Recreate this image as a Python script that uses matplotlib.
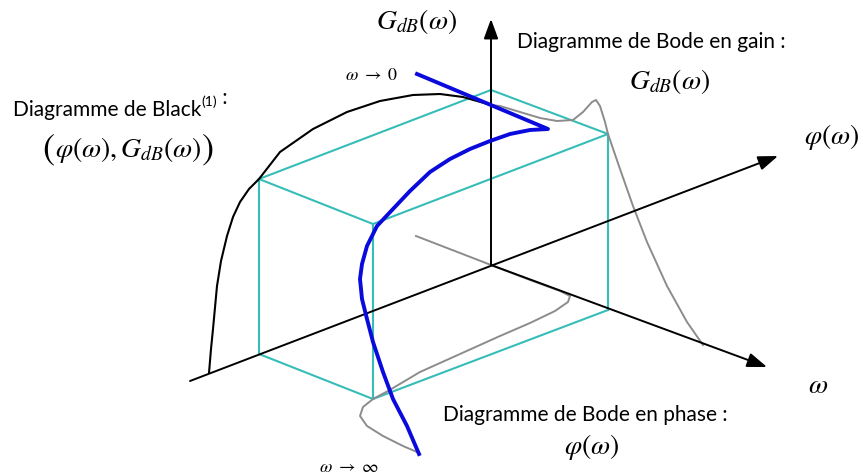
import numpy as np
import matplotlib
matplotlib.use("Agg")
import matplotlib.pyplot as plt

plt.rcParams['font.family'] = ['Lato', 'DejaVu Sans']
plt.rcParams['mathtext.fontset'] = 'stix'

# axes of the 3D sketch (pixel space): origin, then arrow tips
origin = (491, 266)
tip_gain = (491, 20)
tip_phase = (778, 157)
tail_phase = (190, 382)
tip_omega = (767, 368)

# cube corners
box_top = [(259, 180), (373, 225), (608, 135), (491, 91), (259, 180)]
box_bottom = [(259, 355), (373, 400), (608, 311)]
box_edges = [((259, 180), (259, 355)), ((373, 225), (373, 400)), ((608, 135), (608, 311))]

# Black diagram (projection on the phi / G plane)
black_x = [209, 211, 213, 217, 221, 227, 233, 240, 249, 259, 280, 313, 347, 380, 413, 440, 463, 491]
black_y = [374, 350, 330, 287, 262, 237, 218, 203, 190, 180, 153, 130, 113, 102, 96, 95, 98, 106]

# Bode gain (omega / G plane)
gain_x = [491, 500, 520, 540, 557, 573, 583, 592, 596, 600, 605, 608, 620, 633, 647, 667, 687, 703]
gain_y = [106, 107, 113, 119, 122, 121, 113, 103, 101, 107, 123, 135, 170, 207, 243, 287, 323, 346]

# Bode phase (omega / phi plane), runs under the omega axis before dropping
phase_x = [416, 491, 530, 560, 570, 568, 555, 530, 500, 460, 420, 388, 373, 363, 360, 367, 383, 403, 417]
phase_y = [237, 266, 281, 292, 297, 303, 312, 324, 337, 355, 373, 392, 400, 408, 417, 427, 437, 447, 453]

# 3D frequency response
resp_x = [417, 548, 530, 510, 490, 470, 450, 430, 410, 393, 377, 367, 362, 360, 362, 367, 373, 383, 393, 407, 419]
resp_y = [75, 130, 131, 135, 142, 150, 160, 173, 192, 210, 227, 247, 265, 280, 300, 320, 343, 373, 400, 427, 455]

cyan = '#36bdb8'
grey = '#8c8c8c'
blue = '#0a0adc'

fig = plt.figure(figsize=(8.65, 4.77), dpi=100)
ax = fig.add_axes([0, 0, 1, 1])
ax.set_xlim(0, 865)
ax.set_ylim(477, 0)
ax.axis('off')

# cube
bx, by = zip(*box_top)
ax.plot(bx, by, color=cyan, lw=1.5, zorder=2)
bx, by = zip(*box_bottom)
ax.plot(bx, by, color=cyan, lw=1.5, zorder=2)
for a, b in box_edges:
    ax.plot([a[0], b[0]], [a[1], b[1]], color=cyan, lw=1.5, zorder=2)

# curves
ax.plot(black_x, black_y, color='black', lw=1.5, zorder=3, solid_capstyle='round')
ax.plot(gain_x, gain_y, color=grey, lw=1.4, zorder=3)
ax.plot(phase_x, phase_y, color=grey, lw=1.4, zorder=3)
ax.plot(resp_x, resp_y, color=blue, lw=2.8, zorder=5, solid_joinstyle='round')

# axes with arrows
arr = dict(arrowstyle='-|>,head_length=0.6,head_width=0.22', color='black', lw=1.4,
           mutation_scale=20, shrinkA=0, shrinkB=0)
ax.annotate('', xy=tip_gain, xytext=origin, arrowprops=arr, zorder=4)
ax.annotate('', xy=tip_phase, xytext=tail_phase, arrowprops=arr, zorder=4)
ax.annotate('', xy=tip_omega, xytext=origin, arrowprops=arr, zorder=4)

# labels
txt = 15
mth = 20
ax.text(416, 21, r'$G_{dB}(\omega)$', fontsize=mth, ha='center', va='center')
ax.text(832, 137, r'$\varphi(\omega)$', fontsize=mth, ha='center', va='center')
ax.text(818, 385, r'$\omega$', fontsize=mth, ha='center', va='center')
ax.text(372, 75, r'$\omega\ \rightarrow\ 0$', fontsize=13, ha='center', va='center')
ax.text(349, 467, r'$\omega\ \rightarrow\ \infty$', fontsize=13, ha='center', va='center')

ax.text(517, 42, 'Diagramme de Bode en gain :', fontsize=txt, ha='left', va='center')
ax.text(669, 82, r'$G_{dB}(\omega)$', fontsize=mth, ha='center', va='center')

ax.text(443, 415, 'Diagramme de Bode en phase :', fontsize=txt, ha='left', va='center')
ax.text(592, 447, r'$\varphi(\omega)$', fontsize=mth, ha='center', va='center')

t1 = ax.text(13, 110, 'Diagramme de Black', fontsize=txt, ha='left', va='center')
t2 = ax.annotate('(1)', xy=(1, 0.62), xycoords=t1, fontsize=10, ha='left', va='bottom')
ax.annotate(' :', xy=(1, 0), xycoords=t2, fontsize=txt, ha='left', va='bottom')

# couple (phi, G) with taller outer brackets
inner = ax.text(128, 150, r'$\varphi(\omega), G_{dB}(\omega)$', fontsize=mth,
                ha='center', va='center')
ax.annotate(r'$($', xy=(0, 0.5), xycoords=inner, fontsize=26, ha='right', va='center')
ax.annotate(r'$)$', xy=(1, 0.5), xycoords=inner, fontsize=26, ha='left', va='center')

fig.savefig('out.png', dpi=100)
